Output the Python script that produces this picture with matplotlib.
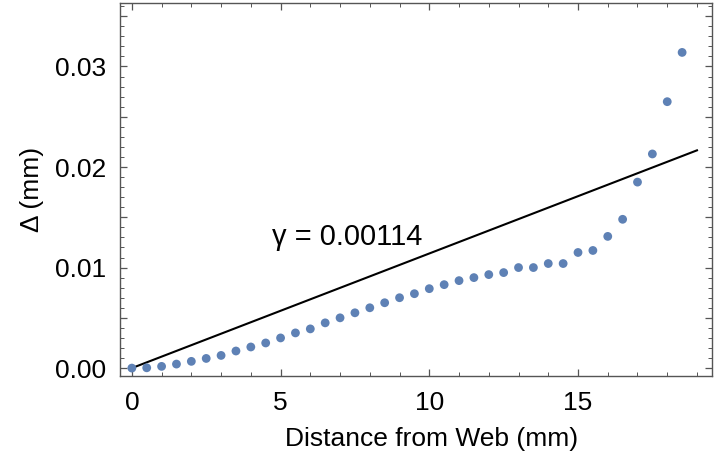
import numpy as np
import matplotlib
matplotlib.use("Agg")
import matplotlib.pyplot as plt
from matplotlib.ticker import MultipleLocator, FuncFormatter

# distance from web (mm) and measured deflection Delta (mm)
distance = [0.0, 0.5, 1.0, 1.5, 2.0, 2.5, 3.0, 3.5, 4.0, 4.5,
            5.0, 5.5, 6.0, 6.5, 7.0, 7.5, 8.0, 8.5, 9.0, 9.5,
            10.0, 10.5, 11.0, 11.5, 12.0, 12.5, 13.0, 13.5, 14.0, 14.5,
            15.0, 15.5, 16.0, 16.5, 17.0, 17.5, 18.0, 18.5]
delta = [0.0000, 0.00003, 0.00017, 0.0004, 0.00067, 0.00096, 0.00126, 0.0017, 0.0021, 0.0025,
         0.0030, 0.0035, 0.0039, 0.0045, 0.0050, 0.0055, 0.0060, 0.0065, 0.0070, 0.0074,
         0.0079, 0.0083, 0.0087, 0.0090, 0.0093, 0.0095, 0.0100, 0.0100, 0.0104, 0.0104,
         0.0115, 0.0117, 0.0131, 0.0148, 0.0185, 0.0213, 0.0265, 0.0314]

GAMMA = 0.00114          # fitted slope
FIT_X = [0.0, 19.0]      # extent of the fit line

plt.rcParams["font.family"] = ["Liberation Sans", "DejaVu Sans"]

fig = plt.figure(figsize=(7.14, 4.51), dpi=100)
ax = fig.add_axes([0.168, 0.166, 0.829, 0.827])

fit_x = np.array(FIT_X)
ax.plot(fit_x, GAMMA * fit_x, color="black", linewidth=1.5, zorder=2)
ax.scatter(distance, delta, s=40, color="#5E81B5", edgecolors="none", zorder=3)

ax.text(4.7, 0.0130, f"\u03b3 = {GAMMA:.5f}", fontsize=21, ha="left", va="center")

ax.set_xlim(-0.4, 19.5)
ax.set_ylim(-0.0008, 0.0363)

ax.xaxis.set_major_locator(MultipleLocator(5))
ax.xaxis.set_minor_locator(MultipleLocator(1))
ax.yaxis.set_major_locator(MultipleLocator(0.005))
ax.yaxis.set_minor_locator(MultipleLocator(0.001))
ax.yaxis.set_major_formatter(
    FuncFormatter(lambda v, _: f"{v:.2f}" if abs(round(v / 0.01) * 0.01 - v) < 1e-9 else ""))

frame_col = "#555555"
for side in ax.spines.values():
    side.set_color(frame_col)
    side.set_linewidth(1.0)
ax.tick_params(which="both", direction="in", top=True, right=True, colors=frame_col,
               labelcolor="black", labelsize=19)
ax.tick_params(which="major", length=5, width=0.9)
ax.tick_params(which="minor", length=3, width=0.7)
ax.tick_params(axis="x", which="major", pad=11)
ax.tick_params(axis="y", which="major", pad=10)

ax.set_xlabel("Distance from Web (mm)", fontsize=19, labelpad=8)
ax.xaxis.label.set_x(0.527)
ax.set_ylabel("\u0394 (mm)", fontsize=19, labelpad=8)

fig.savefig("out.png", dpi=100)
